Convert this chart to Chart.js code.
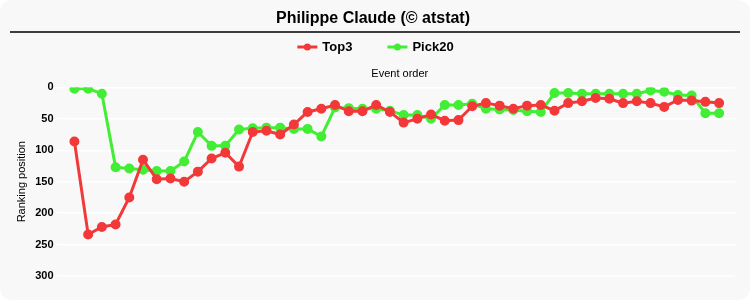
<!DOCTYPE html>
<html>
<head>
<meta charset="utf-8">
<script src="https://cdn.jsdelivr.net/npm/chart.js@4.4.1/dist/chart.umd.min.js"></script>
<style>
  html, body { margin: 0; padding: 0; background: #ffffff; }
  #card { width: 750px; height: 300px; background: #f8f8f8; border-radius: 12px; overflow: hidden; }
</style>
</head>
<body>
<div id="card"><canvas id="chartRanking" width="750" height="300"></canvas></div>
<script>
// ranking positions per event (lower = better)
var events = [];
for (var n = 1; n <= 48; n++) events.push(n);

var top3Rank = [86, 234, 222, 218, 175, 115, 146, 145, 150, 134, 113, 104, 126, 71, 69, 75,
  59, 39, 34, 28, 38, 38, 28, 39, 56, 50, 43, 53, 52, 30, 25, 29,
  34, 29, 28, 37, 25, 22, 17, 18, 25, 22, 25, 31, 20, 21, 23, 25];

var pick20Rank = [2, 2, 10, 127, 129, 131, 133, 133, 118, 71, 93, 93, 67, 65, 64, 64,
  66, 66, 78, 32, 33, 34, 34, 37, 44, 44, 50, 28, 28, 26, 34, 35,
  36, 38, 39, 9, 9, 10, 10, 10, 10, 10, 5, 7, 12, 13, 41, 41];

var seriesNames = ["Top3", "Pick20"];
var seriesColors = ["rgb(242,56,56)", "rgb(66,238,52)"];

var FONT = "'Liberation Sans', Arial, sans-serif";

// black rule under the title + line/dot legend
var headerDecor = {
  id: "headerDecor",
  afterDraw: function (chart) {
    var ctx = chart.ctx;
    ctx.save();
    ctx.strokeStyle = "#000000";
    ctx.lineWidth = 1.5;
    ctx.beginPath();
    ctx.moveTo(10, 32);
    ctx.lineTo(740, 32);
    ctx.stroke();

    ctx.font = "bold 13px " + FONT;
    ctx.textBaseline = "middle";
    var markW = 20, gapText = 5, gapItem = 35, y = 47;
    var total = 0;
    chart.data.datasets.forEach(function (ds, i) {
      total += markW + gapText + ctx.measureText(ds.label).width;
      if (i > 0) total += gapItem;
    });
    var x = 375.5 - total / 2;
    chart.data.datasets.forEach(function (ds) {
      ctx.strokeStyle = ds.borderColor;
      ctx.fillStyle = ds.borderColor;
      ctx.lineWidth = 3;
      ctx.beginPath();
      ctx.moveTo(x, y);
      ctx.lineTo(x + markW, y);
      ctx.stroke();
      ctx.beginPath();
      ctx.arc(x + markW / 2, y, 3.5, 0, Math.PI * 2);
      ctx.fill();
      x += markW + gapText;
      ctx.fillStyle = "#000000";
      ctx.fillText(ds.label, x, y);
      x += ctx.measureText(ds.label).width + gapItem;
    });
    ctx.restore();
  }
};

function toPoints(values) {
  return values.map(function (v, i) { return { x: i, y: v }; });
}

var ctx = document.getElementById("chartRanking").getContext("2d");
window.rankChart = new Chart(ctx, {
  type: "line",
  data: {
    datasets: [
      {
        label: seriesNames[0],
        data: toPoints(top3Rank),
        borderColor: seriesColors[0],
        backgroundColor: seriesColors[0],
        borderWidth: 3,
        pointRadius: 3.5,
        tension: 0,
      },
      {
        label: seriesNames[1],
        data: toPoints(pick20Rank),
        borderColor: seriesColors[1],
        backgroundColor: seriesColors[1],
        borderWidth: 3,
        pointRadius: 3.5,
        tension: 0,
      },
    ],
  },
  options: {
    responsive: false,
    animation: false,
    layout: { padding: { left: 11, right: 15, top: 0, bottom: 24 } },
    plugins: {
      title: {
        display: true,
        text: "Philippe Claude (\u00a9 atstat)",
        color: "#000000",
        font: { family: FONT, size: 16, weight: "bold" },
        padding: { top: 9, bottom: 30 },
      },
      legend: { display: false },
      tooltip: { enabled: false },
    },
    scales: {
      x: {
        type: "linear",
        position: "top",
        min: -0.72,
        max: 48.16,
        grid: { display: false, drawTicks: false },
        border: { display: false },
        ticks: { display: false },
        title: {
          display: true,
          text: "Event order",
          color: "#000000",
          font: { family: FONT, size: 11 },
          padding: { top: 9, bottom: 7 },
        },
      },
      y: {
        reverse: true,
        min: 0,
        max: 300,
        ticks: {
          stepSize: 50,
          color: "#000000",
          font: { family: FONT, size: 11, weight: "bold" },
        },
        grid: { color: "#ffffff", lineWidth: 1.5 },
        border: { display: false },
        title: {
          display: true,
          text: "Ranking position",
          color: "#000000",
          font: { family: FONT, size: 11 },
        },
      },
    },
  },
  plugins: [headerDecor],
});
</script>
</body>
</html>
